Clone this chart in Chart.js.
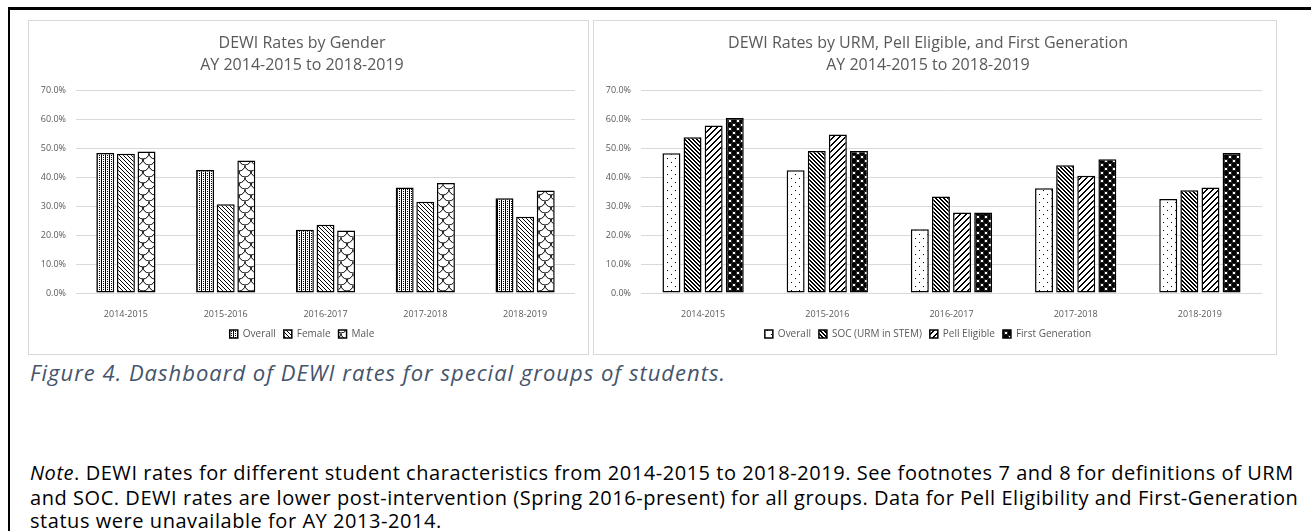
<!DOCTYPE html>
<html>
<head>
<meta charset="utf-8">
<script src="https://cdn.jsdelivr.net/npm/chart.js@4.4.1/dist/chart.umd.min.js"></script>
<style>
  body { margin: 0; background: #fff; width: 1311px; height: 531px; overflow: hidden; position: relative; font-family: "Open Sans", sans-serif; }
  #frame { position: absolute; left: 8px; top: 7px; right: -5px; bottom: -5px; border-top: 3px solid #000; border-left: 2px solid #000; }
  .panel { position: absolute; top: 20px; height: 333px; border: 1px solid #d9d9d9; background: #fff; }
  #p1 { left: 28px; width: 559px; }
  #p2 { left: 593px; width: 682px; }
  .panel canvas { display: block; }
  #caption { position: absolute; left: 30px; top: 357px; font-size: 22px; letter-spacing: 1px; font-style: italic; color: #44546a; white-space: nowrap; }
  .note { position: absolute; left: 30px; font-size: 20px; letter-spacing: 0.55px; color: #000; white-space: nowrap; }
</style>
</head>
<body>
<div id="frame"></div>
<div class="panel" id="p1"><canvas id="genderChart" width="559" height="333"></canvas></div>
<div class="panel" id="p2"><canvas id="groupChart" width="682" height="333"></canvas></div>
<div id="caption">Figure 4. Dashboard of DEWI rates for special groups of students.</div>
<div class="note" style="top:459px"><i>Note</i>. DEWI rates for different student characteristics from 2014-2015 to 2018-2019. See footnotes 7 and 8 for definitions of URM</div>
<div class="note" style="top:484px">and SOC. DEWI rates are lower post-intervention (Spring 2016-present) for all groups. Data for Pell Eligibility and First-Generation</div>
<div class="note" style="top:507px">status were unavailable for AY 2013-2014.</div>
<script>
// data
const years = ['2014-2015', '2015-2016', '2016-2017', '2017-2018', '2018-2019'];
const yTicks = [0, 10, 20, 30, 40, 50, 60, 70];

const genderOverall = [48.5, 42.6, 21.9, 36.5, 32.8];
const genderFemale = [48.2, 30.7, 23.6, 31.6, 26.4];
const genderMale = [49.0, 45.9, 21.6, 38.1, 35.5];

const groupOverall = [48.4, 42.5, 22.1, 36.3, 32.5];
const groupSOC = [53.9, 49.2, 33.4, 44.2, 35.6];
const groupPell = [58.0, 54.9, 27.9, 40.6, 36.5];
const groupFirstGen = [60.6, 49.2, 27.9, 46.3, 48.5];

const textColor = '#595959';
const gridColor = '#d9d9d9';

// small pattern tiles for the bar fills
function makePattern(ctx, w, h, draw) {
    const c = document.createElement('canvas');
    c.width = w; c.height = h;
    const g = c.getContext('2d');
    g.fillStyle = '#fff';
    g.fillRect(0, 0, w, h);
    g.fillStyle = '#000';
    g.strokeStyle = '#000';
    draw(g, w, h);
    return ctx.createPattern(c, 'repeat');
}

function pixels(test) {
    return function(g, w, h) {
        for (let x = 0; x < w; x++) {
            for (let y = 0; y < h; y++) {
                if (test(x, y)) g.fillRect(x, y, 1, 1);
            }
        }
    };
}

function buildOptions(title, catPct, barPct, rightPad) {
    return {
        responsive: false,
        animation: false,
        layout: { padding: { left: 0, right: rightPad, top: 0, bottom: 5 } },
        plugins: {
            title: {
                display: true,
                text: title,
                color: textColor,
                font: { family: 'Open Sans', size: 16, weight: 'normal', lineHeight: 1.4 },
                padding: { top: 11, bottom: 14 }
            },
            legend: {
                position: 'bottom',
                labels: {
                    color: textColor,
                    font: { family: 'Open Sans', size: 10 },
                    boxWidth: 8,
                    boxHeight: 8,
                    padding: 8
                }
            },
            tooltip: { enabled: false }
        },
        datasets: { bar: { categoryPercentage: catPct, barPercentage: barPct } },
        scales: {
            x: {
                grid: { display: false },
                border: { display: false },
                ticks: { color: textColor, font: { family: 'Open Sans', size: 9 }, padding: 8 },
                afterFit: s => { s.height = 28; }
            },
            y: {
                min: 0,
                max: 70,
                grid: { color: gridColor, drawTicks: false },
                border: { display: false },
                afterBuildTicks: s => { s.ticks = yTicks.map(v => ({ value: v })); },
                ticks: {
                    color: textColor,
                    font: { family: 'Open Sans', size: 9 },
                    padding: 10,
                    callback: v => v.toFixed(1) + '%'
                },
                afterFit: s => { s.width = 47; }
            }
        }
    };
}

function barSet(label, data, fill) {
    return {
        label: label,
        data: data,
        backgroundColor: fill,
        borderColor: '#000',
        borderWidth: 1.5,
        borderSkipped: false
    };
}

document.addEventListener('DOMContentLoaded', function() {
    // gender chart
    const ctx1 = document.getElementById('genderChart').getContext('2d');
    const pOverall = makePattern(ctx1, 4, 2, pixels((x, y) => x % 4 === 0 || (x % 2 === 0 && y % 2 === 0)));
    const pFemale = makePattern(ctx1, 4, 4, pixels((x, y) => ((x - y) % 4 + 4) % 4 === 0));
    const pMale = makePattern(ctx1, 12, 12, function(g) {
        g.lineWidth = 1;
        g.beginPath(); g.arc(6, 0, 6, 0, Math.PI); g.stroke();
        g.beginPath(); g.arc(0, 6, 6, 0, Math.PI); g.stroke();
        g.beginPath(); g.arc(12, 6, 6, 0, Math.PI); g.stroke();
        g.beginPath(); g.arc(6, 12, 6, 0, Math.PI); g.stroke();
    });
    new Chart(ctx1, {
        type: 'bar',
        data: {
            labels: years,
            datasets: [
                barSet('Overall', genderOverall, pOverall),
                barSet('Female', genderFemale, pFemale),
                barSet('Male', genderMale, pMale)
            ]
        },
        options: buildOptions(['DEWI Rates by Gender', 'AY 2014-2015 to 2018-2019'], 0.62, 0.87, 13)
    });

    // URM / Pell / first generation chart
    const ctx2 = document.getElementById('groupChart').getContext('2d');
    const qOverall = makePattern(ctx2, 8, 8, pixels((x, y) => (x === 1 && y === 1) || (x === 5 && y === 5)));
    const qSOC = makePattern(ctx2, 4, 4, pixels((x, y) => { const d = ((x - y) % 4 + 4) % 4; return d < 2; }));
    const qPell = makePattern(ctx2, 6, 6, pixels((x, y) => (x + y) % 6 < 2));
    const qFirst = makePattern(ctx2, 8, 8, function(g) {
        [[0, 0], [8, 0], [0, 8], [8, 8], [4, 4]].forEach(p => {
            g.beginPath(); g.arc(p[0], p[1], 2.9, 0, Math.PI * 2); g.fill();
        });
    });
    new Chart(ctx2, {
        type: 'bar',
        data: {
            labels: years,
            datasets: [
                barSet('Overall', groupOverall, qOverall),
                barSet('SOC (URM in STEM)', groupSOC, qSOC),
                barSet('Pell Eligible', groupPell, qPell),
                barSet('First Generation', groupFirstGen, qFirst)
            ]
        },
        options: buildOptions(['DEWI Rates by URM, Pell Eligible, and First Generation', 'AY 2014-2015 to 2018-2019'], 0.68, 0.85, 14)
    });
});
</script>
</body>
</html>
